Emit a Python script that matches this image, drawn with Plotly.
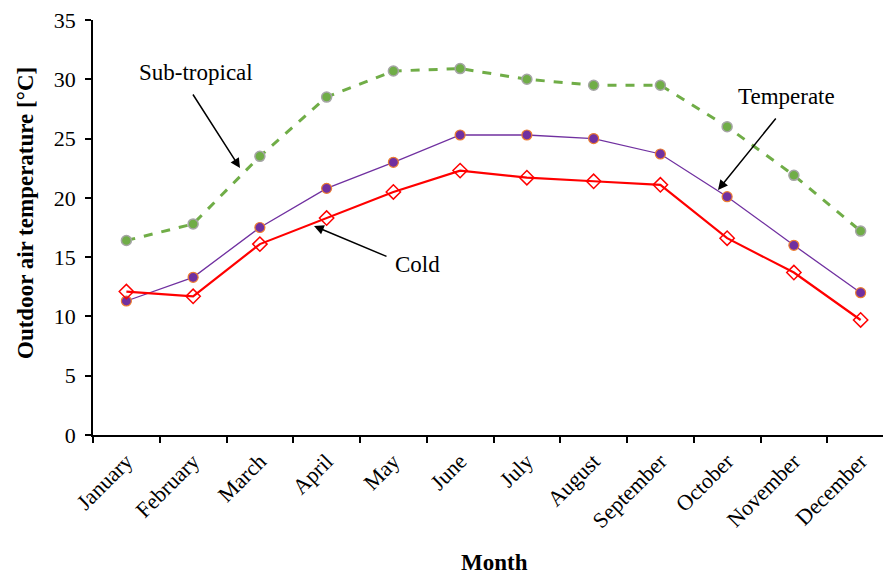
import plotly.graph_objects as go

months = ["January", "February", "March", "April", "May", "June", "July",
          "August", "September", "October", "November", "December"]
sub_tropical = [16.4, 17.8, 23.5, 28.5, 30.7, 30.9, 30.0, 29.5, 29.5, 26.0, 21.9, 17.2]
temperate = [11.3, 13.3, 17.5, 20.8, 23.0, 25.3, 25.3, 25.0, 23.7, 20.1, 16.0, 12.0]
cold = [12.1, 11.7, 16.1, 18.3, 20.5, 22.3, 21.7, 21.4, 21.1, 16.6, 13.7, 9.7]
y_ticks = [0, 5, 10, 15, 20, 25, 30, 35]

FONT = "Liberation Serif"
W, H = 883, 576
L, T, B = 93, 20, 141
PW, PH = W - L, H - T - B

fig = go.Figure()
fig.add_trace(go.Scatter(
    x=months, y=sub_tropical, mode="lines+markers", name="Sub-tropical",
    line=dict(color="#70AD47", width=3, dash="dash"),
    marker=dict(symbol="circle", size=10, color="#70AD47",
                line=dict(color="#A5A5A5", width=1.5)),
))
fig.add_trace(go.Scatter(
    x=months, y=temperate, mode="lines+markers", name="Temperate",
    line=dict(color="#7030A0", width=1.3),
    marker=dict(symbol="circle", size=10, color="#7030A0",
                line=dict(color="#ED7D31", width=1.2)),
))
fig.add_trace(go.Scatter(
    x=months, y=cold, mode="lines+markers", name="Cold",
    line=dict(color="#FF0000", width=2.2),
    marker=dict(symbol="diamond-open", size=11, color="#FF0000",
                line=dict(color="#FF0000", width=1.5)),
))


def dx(px):
    return (px - L) / PW


def dy(py):
    return (H - B - py) / PH


# Series labels (positions in page pixels)
labels = [("Sub-tropical", 196, 72), ("Temperate", 786, 96), ("Cold", 417, 264)]
for text, px, py in labels:
    fig.add_annotation(xref="x domain", yref="y domain", x=dx(px), y=dy(py),
                       xanchor="center", yanchor="middle",
                       text=text, showarrow=False,
                       font=dict(family=FONT, size=23, color="black"))

# Pointer arrows: (tail, head)
arrows = [((192, 93), (240, 168)), ((777, 117), (718, 190)), ((388, 257), (314, 226))]
for (tx, ty), (hx, hy) in arrows:
    fig.add_annotation(xref="x domain", yref="y domain",
                       axref="x domain", ayref="y domain",
                       x=dx(hx), y=dy(hy), ax=dx(tx), ay=dy(ty),
                       text="", showarrow=True, arrowhead=2, arrowsize=1.3,
                       arrowwidth=1.5, arrowcolor="black")

# Axis titles
fig.add_annotation(xref="paper", yref="paper", x=(494 - L) / PW, y=dy(562),
                   xanchor="center", yanchor="middle", showarrow=False,
                   borderpad=0,
                   text="<b>Month</b>", font=dict(family=FONT, size=23))
fig.add_annotation(xref="paper", yref="paper", x=dx(25), y=dy(213),
                   xanchor="center", yanchor="middle", showarrow=False,
                   textangle=-90,
                   text="<b>Outdoor air temperature [°C]</b>",
                   font=dict(family=FONT, size=23))

fig.update_layout(
    width=W, height=H,
    margin=dict(l=L, r=0, t=T, b=B),
    plot_bgcolor="white", paper_bgcolor="white",
    showlegend=False,
    font=dict(family=FONT, size=22, color="black"),
)
# category width of ~66.75 px; the axis runs off the right edge of the page
fig.update_xaxes(
    type="category", tickangle=-45, tickson="boundaries",
    ticks="outside", ticklen=6, tickwidth=1.5, tickcolor="black",
    showline=True, linecolor="black", linewidth=1.5, showgrid=False,
    tickfont=dict(family=FONT, size=22), ticklabelstandoff=3,
    range=[-0.5, -0.5 + PW / 66.75],
)
fig.update_yaxes(
    range=[0, 35], tickvals=y_ticks, ticks="outside", ticklen=6,
    tickwidth=1.5, tickcolor="black",
    showline=True, linecolor="black", linewidth=1.5, showgrid=False,
    zeroline=False, tickfont=dict(family=FONT, size=22), ticklabelstandoff=5,
)

fig.write_html("out.html")
